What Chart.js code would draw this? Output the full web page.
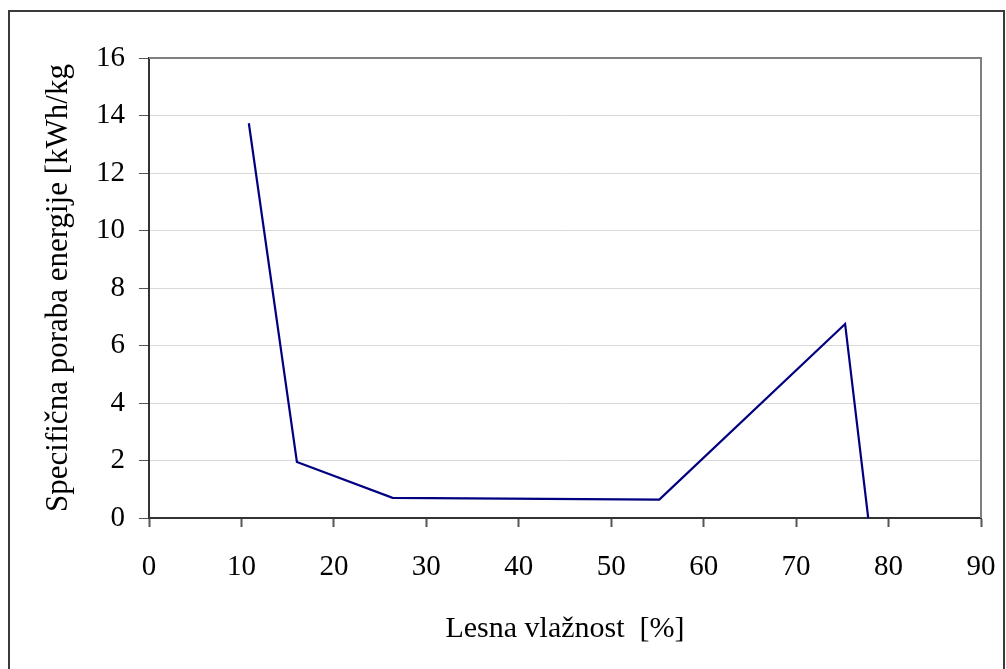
<!DOCTYPE html>
<html>
<head>
<meta charset="utf-8">
<script src="https://cdn.jsdelivr.net/npm/chart.js@4/dist/chart.umd.min.js"></script>
<style>
  html, body { margin: 0; padding: 0; background: #ffffff; }
  #wrap { position: relative; width: 1006px; height: 669px; }
</style>
</head>
<body>
<div id="wrap"><canvas id="chart" width="1006" height="669"></canvas></div>
<script>
// Wood moisture content [%] and specific energy consumption [kWh/kg]
const moisture = [10.8, 16.0, 26.35, 55.2, 75.3, 77.8];
const energy = [13.73, 1.95, 0.70, 0.64, 6.75, 0];

const xTicks = [0, 10, 20, 30, 40, 50, 60, 70, 80, 90];
const yTicks = [0, 2, 4, 6, 8, 10, 12, 14, 16];

const xTitle = 'Lesna vlažnost  [%]';
const yTitle = 'Specifična poraba energije [kWh/kg';

const serif = '"Liberation Serif", "Times New Roman", serif';

// Outer frame plus the grey top/right edges of the plot area
const framePlugin = {
  id: 'frame',
  beforeDraw(chart) {
    const ctx = chart.ctx;
    ctx.save();
    ctx.fillStyle = '#ffffff';
    ctx.fillRect(0, 0, chart.width, chart.height);
    ctx.strokeStyle = '#3a3a3a';
    ctx.lineWidth = 2;
    ctx.strokeRect(9, 11, 995, 700);
    ctx.restore();
  },
  afterDraw(chart) {
    const a = chart.chartArea;
    const ctx = chart.ctx;
    ctx.save();
    ctx.strokeStyle = '#808080';
    ctx.lineWidth = 2;
    ctx.beginPath();
    ctx.moveTo(a.left, a.top);
    ctx.lineTo(a.right, a.top);
    ctx.lineTo(a.right, a.bottom);
    ctx.stroke();
    ctx.restore();
  }
};

new Chart(document.getElementById('chart'), {
  type: 'line',
  data: {
    datasets: [{
      data: moisture.map((x, i) => ({ x: x, y: energy[i] })),
      borderColor: '#000080',
      borderWidth: 2.2,
      pointRadius: 0,
      tension: 0,
      fill: false
    }]
  },
  options: {
    responsive: false,
    animation: false,
    layout: { padding: { left: 0, right: 25, top: 58, bottom: 0 } },
    plugins: { legend: { display: false }, tooltip: { enabled: false } },
    scales: {
      x: {
        type: 'linear',
        min: xTicks[0],
        max: xTicks[xTicks.length - 1],
        afterBuildTicks(scale) { scale.ticks = xTicks.map(v => ({ value: v })); },
        afterFit(scale) { scale.height = 151; scale.paddingLeft = 0; scale.paddingRight = 0; },
        grid: { drawOnChartArea: false, drawTicks: true, tickLength: 9, tickColor: '#555555', tickWidth: 2 },
        border: { color: '#333333', width: 2 },
        ticks: { color: '#000000', padding: 23, maxRotation: 0, font: { family: serif, size: 29 } },
        title: { display: true, text: xTitle, color: '#000000', font: { family: serif, size: 30 }, padding: { top: 0, bottom: 22 } }
      },
      y: {
        min: yTicks[0],
        max: yTicks[yTicks.length - 1],
        afterBuildTicks(scale) { scale.ticks = yTicks.map(v => ({ value: v })); },
        afterFit(scale) { scale.width = 149; scale.paddingTop = 0; scale.paddingBottom = 0; },
        grid: { color: '#d9d9d9', lineWidth: 1, drawTicks: true, tickLength: 10, tickColor: '#555555', tickWidth: 1 },
        border: { color: '#333333', width: 2 },
        ticks: { color: '#000000', padding: 14, font: { family: serif, size: 29 } },
        title: { display: true, text: yTitle, color: '#000000', font: { family: serif, size: 31 }, padding: { top: 40, bottom: 0 } }
      }
    }
  },
  plugins: [framePlugin]
});
</script>
</body>
</html>
